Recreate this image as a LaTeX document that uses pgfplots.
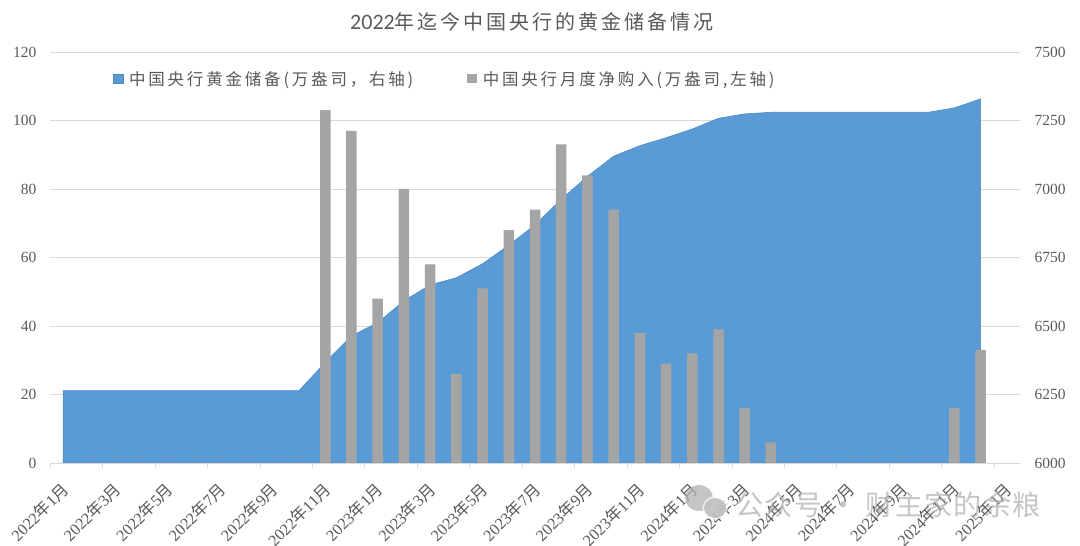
\documentclass[border=0pt]{standalone}
\usepackage{pgfplots}
\pgfplotsset{compat=1.18}
\usepackage{fontspec}
\setmainfont{Liberation Serif}
\newfontfamily\cjk{Noto Sans CJK SC}
\newfontfamily\cjksp[LetterSpace=17]{Noto Sans CJK SC}
\newfontfamily\cjkti[LetterSpace=15]{Noto Sans CJK SC}
\newfontfamily\cjkwm[LetterSpace=5]{Noto Sans CJK SC}
\newfontfamily\digsp{Carlito}
\definecolor{tc}{HTML}{595959}
\definecolor{gl}{HTML}{D9D9D9}
\definecolor{ar}{HTML}{5B9BD5}
\definecolor{ad}{HTML}{4A8AC6}
\definecolor{br}{HTML}{A5A5A5}
\newcommand{\ym}[2]{#1{\cjk 年}#2{\cjk 月}}
\pgfplotstableread{
idx stock buy
0 6264 0
1 6264 0
2 6264 0
3 6264 0
4 6264 0
5 6264 0
6 6264 0
7 6264 0
8 6264 0
9 6264 0
10 6367 103
11 6464 97
12 6512 48
13 6592 80
14 6650 58
15 6676 26
16 6727 51
17 6795 68
18 6869 74
19 6962 93
20 7046 84
21 7120 74
22 7158 38
23 7187 29
24 7219 32
25 7258 39
26 7274 16
27 7280 6
28 7280 0
29 7280 0
30 7280 0
31 7280 0
32 7280 0
33 7280 0
34 7296 16
35 7329 33
}\data
\pgfplotsset{base/.style={
  scale only axis, width=970pt, height=411pt,
  at={(50pt,83pt)}, anchor=south west,
  xmin=-0.5, xmax=36.5,
  axis line style={gl},
  tick style={gl},
  tick label style={text=tc, font=\fontsize{15.5}{18}\selectfont},
  /pgf/number format/assume math mode=true,
  /pgf/number format/1000 sep={},
  clip=false,
}}
\begin{document}
\begin{tikzpicture}[x=1pt,y=1pt]
\path[use as bounding box] (0,0) rectangle (1080,546);
\begin{axis}[base,
  axis x line=none,
  axis y line*=right, y axis line style={draw=none},
  ymin=6000, ymax=7500, ytick={6000,6250,...,7500},
  major tick length=0pt,
  yticklabel style={xshift=11pt},
  ymajorgrids, grid style={gl, line width=0.7pt},
]
\addplot[fill=ar, draw=ad, line width=0.6pt] table[x=idx,y=stock]{\data} \closedcycle;
\end{axis}
\begin{axis}[base,
  axis y line*=left, y axis line style={draw=none},
  axis x line*=bottom,
  ymin=0, ymax=120, ytick={0,20,...,120},
  ytick style={draw=none},
  yticklabel style={xshift=-10pt},
  xtick={-0.5,1.5,...,35.5},
  xtick pos=bottom,
  xtick align=outside,
  major tick length=5pt,
  xticklabels={\ym{2022}{1},\ym{2022}{3},\ym{2022}{5},\ym{2022}{7},\ym{2022}{9},\ym{2022}{11},\ym{2023}{1},\ym{2023}{3},\ym{2023}{5},\ym{2023}{7},\ym{2023}{9},\ym{2023}{11},\ym{2024}{1},\ym{2024}{3},\ym{2024}{5},\ym{2024}{7},\ym{2024}{9},\ym{2024}{11},\ym{2025}{1}},
  xticklabel style={rotate=45, anchor=north east, xshift=-1pt, yshift=-15pt, inner sep=1pt, font=\fontsize{16.2}{18}\selectfont},
  legend style={at={(60pt,411pt-15pt)}, anchor=north west, draw=none, fill=none,
    legend columns=2, text=tc, font=\fontsize{16.5}{18}\selectfont,
    /tikz/every even column/.append style={column sep=52pt}},
  legend image code/.code={\fill[#1] (0pt,-4.5pt) rectangle (9.5pt,5pt);},
]
\addplot[ybar, bar width=10.5pt, bar shift=0pt, fill=br, draw=none, forget plot] table[x=idx,y=buy]{\data};
\addlegendimage{fill=ar, draw=ad}
\addlegendentry{\hspace*{4pt}{\cjksp 中国央行黄金储备(万盎司，右轴)}}
\addlegendimage{fill=br, draw=none}
\addlegendentry{\hspace*{4pt}{\cjksp 中国央行月度净购入(万盎司,左轴)}}
\end{axis}
\node[text=tc, anchor=center] at (532,524) {\fontsize{20}{24}\selectfont {\digsp\fontsize{22}{24}\selectfont 2022}{\cjkti 年迄今中国央行的黄金储备情况}};
% watermark
\begin{scope}[opacity=0.75]
\fill[gray!60] (699,48) ellipse (14pt and 13pt);
\fill[white] (715,38) ellipse (12.5pt and 11.5pt);
\fill[gray!60] (715,38) ellipse (11pt and 10pt);
\node[text=gray!60, anchor=west] at (732,41) {\fontsize{28}{30}\selectfont\cjkwm 公众号 · 财主家的余粮};
\end{scope}
\end{tikzpicture}
\end{document}
